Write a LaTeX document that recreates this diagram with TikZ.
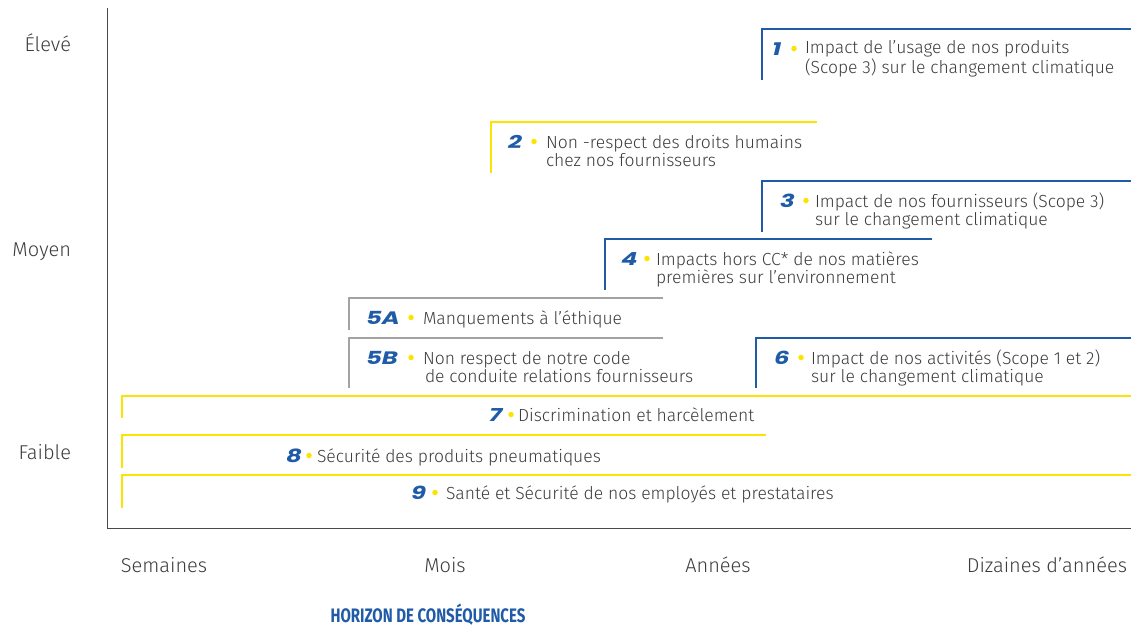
\documentclass[tikz,border=0pt]{standalone}
\usepackage{fontspec}
\setmainfont{Fira Sans Light}
\newfontfamily\numfont{Poppins}
\newfontfamily\titlefont{Fira Sans}
\definecolor{mblue}{HTML}{1F5BA6}
\definecolor{myellow}{HTML}{FCE300}
\definecolor{mgray}{HTML}{A3A3A3}
\definecolor{mtext}{HTML}{3C3C3C}
\definecolor{maxis}{HTML}{4A4A4A}
\newcommand{\wnum}[1]{\scalebox{1.35}[1]{#1}}
\begin{document}
\begin{tikzpicture}[x=1pt,y=-1pt,
  every node/.style={inner sep=0pt,outer sep=0pt,text=mtext,font=\fontsize{17.5}{18}\selectfont},
  brk/.style={line width=2.5pt},
  bluebrk/.style={brk,draw=mblue},
  yelbrk/.style={brk,draw=myellow},
  graybrk/.style={brk,draw=mgray},
  num/.style={anchor=base west,text=mblue,font=\fontsize{18}{18}\numfont\bfseries\itshape},
  dot/.style={circle,fill=myellow,minimum size=5.5pt},
  lbl/.style={anchor=base west,align=left},
  axlbl/.style={anchor=base east,font=\fontsize{20}{22}\selectfont},
  xlbl/.style={anchor=base,font=\fontsize{20}{22}\selectfont}]
\useasboundingbox (0,0) rectangle (1131,625);
% axes
\coordinate (top) at (107,8);
\coordinate (origin) at (107,528);
\coordinate (right) at (1131,528);
\draw[maxis,line width=1pt] (top) -- (origin) -- (right);
% y labels
\node[axlbl] (yh) at (71,51) {Élevé};
\node[axlbl] (ym) at (71,256) {Moyen};
\node[axlbl] (yl) at (71,459) {Faible};
% x labels
\node[xlbl] (xs) at (164,572) {Semaines};
\node[xlbl] (xm) at (445,572) {Mois};
\node[xlbl] (xa) at (718,572) {Années};
\node[anchor=base east,font=\fontsize{20}{22}\selectfont] (xd) at (1127,572) {Dizaines d’années};
\node[anchor=base,text=mblue,font=\fontsize{19.5}{22}\titlefont\bfseries] (title) at (428,622) {\scalebox{0.77}[1]{HORIZON DE CONSÉQUENCES}};
% brackets
\draw[bluebrk] (762,80) |- (1131,29);
\draw[yelbrk] (491,173) |- (817,122);
\draw[bluebrk] (762,232) |- (1131,181);
\draw[bluebrk] (605,290) |- (932,239);
\draw[graybrk] (349,330) |- (663,298);
\draw[graybrk] (349,388) |- (663,338);
\draw[bluebrk] (756,388) |- (1131,338);
\draw[yelbrk] (122,418) |- (1131,396);
\draw[yelbrk] (122,468) |- (766,435);
\draw[yelbrk] (122,508) |- (1131,475);
% 1
\node[num] (n1) at (772,55) {\wnum{1}};
\node[dot] (d1) at (794,48.5) {};
\node[lbl] (t1) at (805,73) {Impact de l’usage de nos produits\\(Scope 3) sur le changement climatique};
% 2
\node[num] (n2) at (508,148) {\wnum{2}};
\node[dot] (d2) at (534,141.5) {};
\node[lbl] (t2) at (546,166) {Non -respect des droits humains\\chez nos fournisseurs};
% 3
\node[num] (n3) at (780,207) {\wnum{3}};
\node[dot] (d3) at (806,200.5) {};
\node[lbl] (t3) at (815,225) {Impact de nos fournisseurs (Scope 3)\\sur le changement climatique};
% 4
\node[num] (n4) at (621,265) {\wnum{4}};
\node[dot] (d4) at (647,258.5) {};
\node[lbl] (t4) at (656,283) {Impacts hors CC* de nos matières\\premières sur l’environnement};
% 5A
\node[num] (n5a) at (366,324) {\wnum{5A}};
\node[dot] (d5a) at (411,317.5) {};
\node[lbl] (t5a) at (423,324) {Manquements à l’éthique};
% 5B
\node[num] (n5b) at (366,364) {\wnum{5B}};
\node[dot] (d5b) at (411,357.5) {};
\node[lbl] (t5b) at (423,382) {Non respect de notre code\\\hspace*{2pt}de conduite relations fournisseurs};
% 6
\node[num] (n6) at (774,364) {\wnum{6}};
\node[dot] (d6) at (801,357.5) {};
\node[lbl] (t6) at (811,382) {Impact de nos activités (Scope 1 et 2)\\sur le changement climatique};
% 7
\node[num] (n7) at (489,421) {\wnum{7}};
\node[dot] (d7) at (511,414.5) {};
\node[lbl] (t7) at (518,421) {Discrimination et harcèlement};
% 8
\node[num] (n8) at (286,462) {\wnum{8}};
\node[dot] (d8) at (309,455.5) {};
\node[lbl] (t8) at (317,462) {Sécurité des produits pneumatiques};
% 9
\node[num] (n9) at (411,499) {\wnum{9}};
\node[dot] (d9) at (435,492.5) {};
\node[lbl] (t9) at (446,499) {Santé et Sécurité de nos employés et prestataires};
\end{tikzpicture}
\end{document}
